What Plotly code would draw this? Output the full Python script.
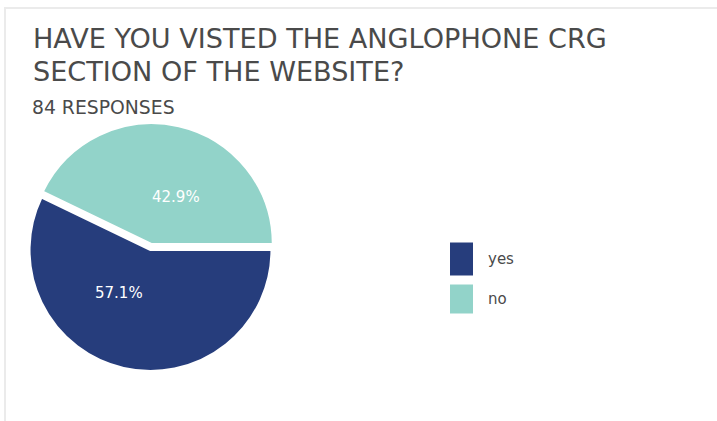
import plotly.graph_objects as go

# Survey answers
labels = ["yes", "no"]
counts = [48, 36]
colors = ["#263d7c", "#92d3c9"]
title_lines = ["HAVE YOU VISTED THE ANGLOPHONE CRG", "SECTION OF THE WEBSITE?"]
subtitle = f"{sum(counts)} RESPONSES"

W, H = 717, 421
FONT = "DejaVu Sans"
TEXT_COLOR = "#4a4a4a"


def px(x):
    return x / W


def py(y):
    return 1 - y / H


fig = go.Figure(
    go.Pie(
        labels=labels,
        values=counts,
        sort=False,
        direction="clockwise",
        rotation=90,
        pull=[0, 0.05],
        marker=dict(colors=colors, line=dict(color="white", width=2)),
        textinfo="none",
        domain=dict(x=[px(23.5), px(277.5)], y=[py(377), py(123)]),
        showlegend=False,
        hoverinfo="label+value+percent",
    )
)

shapes = [
    # card frame
    dict(type="line", xref="paper", yref="paper", x0=px(4), x1=1, y0=py(8), y1=py(8),
         line=dict(color="#ebebeb", width=2)),
    dict(type="line", xref="paper", yref="paper", x0=px(5), x1=px(5), y0=py(8), y1=0,
         line=dict(color="#ebebeb", width=2)),
]

annotations = []
for i, line in enumerate(title_lines):
    annotations.append(dict(
        text=line, xref="paper", yref="paper", x=px(31), y=py(38.5 + 33.4 * i),
        xanchor="left", yanchor="middle", showarrow=False,
        font=dict(family=FONT, size=27.1, color=TEXT_COLOR),
    ))
annotations.append(dict(
    text=subtitle, xref="paper", yref="paper", x=px(30), y=py(108),
    xanchor="left", yanchor="middle", showarrow=False,
    font=dict(family=FONT, size=18.8, color=TEXT_COLOR),
))

# percentage labels inside the slices
total = sum(counts)
label_spots = [(119, 293), (176, 197)]
for v, (lx, ly) in zip(counts, label_spots):
    annotations.append(dict(
        text=f"{100 * v / total:.1f}%", xref="paper", yref="paper",
        x=px(lx), y=py(ly), xanchor="center", yanchor="middle", showarrow=False,
        font=dict(family=FONT, size=15, color="white"),
    ))

# legend keys: tall colour blocks with labels
key_centers = [259, 299]
key_heights = [33, 29]
for lab, col, yc, hk in zip(labels, colors, key_centers, key_heights):
    shapes.append(dict(
        type="rect", xref="paper", yref="paper",
        x0=px(450), x1=px(473), y0=py(yc + hk / 2), y1=py(yc - hk / 2),
        fillcolor=col, line=dict(width=0),
    ))
    annotations.append(dict(
        text=lab, xref="paper", yref="paper", x=px(486), y=py(yc),
        xanchor="left", yanchor="middle", showarrow=False,
        font=dict(family=FONT, size=15, color=TEXT_COLOR),
    ))

fig.update_layout(
    width=W, height=H,
    margin=dict(l=0, r=0, t=0, b=0),
    paper_bgcolor="white", plot_bgcolor="white",
    shapes=shapes, annotations=annotations,
)

fig.write_html("out.html")
